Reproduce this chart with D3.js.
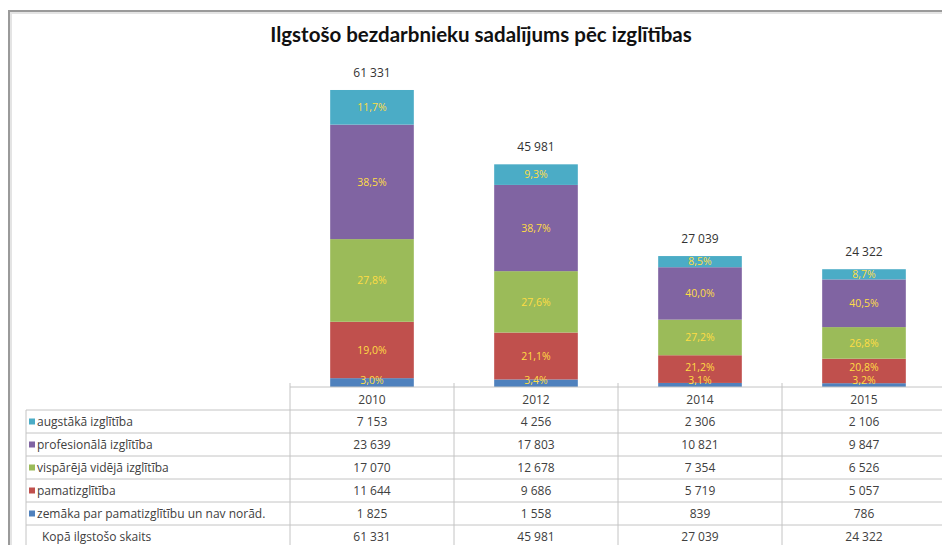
<!DOCTYPE html>
<html>
<head>
<meta charset="utf-8">
<script src="https://cdn.jsdelivr.net/npm/d3@7"></script>
<style>
  body { margin: 0; background: #fff; }
  svg { display: block; font-family: "Open Sans", Lato, sans-serif; }
</style>
</head>
<body>
<div id="container"></div>
<script>
const WIDTH = 942,
  HEIGHT = 545;

// Data
const years = ["2010", "2012", "2014", "2015"];
const seriesNames = [
  "zemāka par pamatizglītību un nav norād.",
  "pamatizglītība",
  "vispārējā vidējā izglītība",
  "profesionālā izglītība",
  "augstākā izglītība"
];
const zemaka = [1825, 1558, 839, 786];
const pamat = [11644, 9686, 5719, 5057];
const visparejaVideja = [17070, 12678, 7354, 6526];
const profesionala = [23639, 17803, 10821, 9847];
const augstaka = [7153, 4256, 2306, 2106];
const totals = [61331, 45981, 27039, 24322];
const totalLabel = "Kopā ilgstošo skaits";
const colors = ["#4f81bd", "#c0504d", "#9bbb59", "#8064a2", "#4bacc6"];

const seriesValues = [zemaka, pamat, visparejaVideja, profesionala, augstaka];

const table = years.map((y, i) => {
  const row = { year: y };
  seriesNames.forEach((s, k) => row[s] = seriesValues[k][i]);
  return row;
});

const fmt = v => d3.format(",")(v).replace(/,/g, " ");
const pct = v => d3.format(".1f")(v).replace(".", ",") + "%";

const svg = d3.select("#container")
  .append("svg")
  .attr("width", WIDTH)
  .attr("height", HEIGHT);

// Outer chart frame
svg.append("path")
  .attr("d", `M9,${HEIGHT} V11 H${WIDTH}`)
  .attr("fill", "none")
  .attr("stroke", "#9a9a9a")
  .attr("stroke-width", 2);
svg.append("path")
  .attr("d", `M11,${HEIGHT} V13 H${WIDTH}`)
  .attr("fill", "none")
  .attr("stroke", "#e4e4e4")
  .attr("stroke-width", 2);

// Title
svg.append("text")
  .attr("x", 481)
  .attr("y", 42)
  .attr("text-anchor", "middle")
  .style("font-family", "Lato, sans-serif")
  .style("font-size", "20.5px")
  .style("font-weight", "bold")
  .style("fill", "#111")
  .text("Ilgstošo bezdarbnieku sadalījums pēc izglītības");

// Scales
const TABLE_LEFT = 26, COL0 = 290, COLW = 164, BASE = 387, ROWH = 23;

const xScale = d3.scaleBand()
  .domain(years)
  .range([COL0, COL0 + COLW * years.length])
  .paddingInner(0.49)
  .paddingOuter(0.245);

const yScale = d3.scaleLinear()
  .domain([0, 70000])
  .range([BASE, 48]);

const stack = d3.stack().keys(seriesNames);
const stacked = stack(table);

// Bars
svg.selectAll(".layer")
  .data(stacked)
  .join("g")
  .attr("class", "layer")
  .attr("fill", (d, i) => colors[i])
  .selectAll("rect")
  .data(d => d)
  .join("rect")
  .attr("x", d => xScale(d.data.year))
  .attr("y", d => yScale(d[1]))
  .attr("width", xScale.bandwidth())
  .attr("height", d => yScale(d[0]) - yScale(d[1]));

// Percentage labels, drawn after all bars; pushed up bottom-to-top so they don't collide
const LABEL_GAP = 13;
const labels = [];
years.forEach((y, i) => {
  let prev = BASE + 6;
  stacked.forEach(layer => {
    const p = layer[i];
    const mid = (yScale(p[0]) + yScale(p[1])) / 2;
    const ly = Math.min(mid, prev - LABEL_GAP);
    prev = ly;
    labels.push({ year: y, ly, text: pct(p.data[layer.key] / totals[i] * 100) });
  });
});

svg.append("g")
  .attr("class", "pct-labels")
  .selectAll("text")
  .data(labels)
  .join("text")
  .attr("x", d => xScale(d.year) + xScale.bandwidth() / 2)
  .attr("y", d => d.ly)
  .attr("dy", "0.35em")
  .attr("text-anchor", "middle")
  .style("font-size", "10.5px")
  .style("fill", "#ffdd44")
  .text(d => d.text);

// Totals above bars
svg.selectAll(".total")
  .data(years)
  .join("text")
  .attr("class", "total")
  .attr("x", d => xScale(d) + xScale.bandwidth() / 2)
  .attr("y", (d, i) => yScale(totals[i]) - 13)
  .attr("text-anchor", "middle")
  .style("font-size", "12px")
  .style("fill", "#333")
  .text((d, i) => fmt(totals[i]));

// Data table
const grid = "#c4c4c4";
const rows = [...seriesNames].reverse();
const rowValues = [...seriesValues].reverse();
const rowColors = [...colors].reverse();
const tableRows = rows.length + 1;
const tableBottom = BASE + ROWH * (tableRows + 1);

const tbl = svg.append("g").attr("class", "data-table");

// horizontal lines
d3.range(1, tableRows + 1).forEach(r => {
  tbl.append("line")
    .attr("x1", TABLE_LEFT).attr("x2", WIDTH)
    .attr("y1", BASE + ROWH * r).attr("y2", BASE + ROWH * r)
    .attr("stroke", grid);
});
// vertical lines
tbl.append("line")
  .attr("x1", TABLE_LEFT).attr("x2", TABLE_LEFT)
  .attr("y1", BASE + ROWH).attr("y2", tableBottom)
  .attr("stroke", grid);
d3.range(years.length).forEach(c => {
  tbl.append("line")
    .attr("x1", COL0 + COLW * c).attr("x2", COL0 + COLW * c)
    .attr("y1", BASE - 4).attr("y2", tableBottom)
    .attr("stroke", grid);
});
// category axis line
tbl.append("line")
  .attr("x1", COL0).attr("x2", WIDTH)
  .attr("y1", BASE).attr("y2", BASE)
  .attr("stroke", grid);

// header years
tbl.selectAll(".year")
  .data(years)
  .join("text")
  .attr("class", "year")
  .attr("x", d => COL0 + COLW * years.indexOf(d) + COLW / 2)
  .attr("y", BASE + ROWH / 2 + 1)
  .attr("dy", "0.35em")
  .attr("text-anchor", "middle")
  .style("font-size", "12px")
  .style("fill", "#404040")
  .text(d => d);

// series rows
rows.forEach((name, r) => {
  const cy = BASE + ROWH * (r + 1) + ROWH / 2;
  tbl.append("rect")
    .attr("x", 29).attr("y", cy - 3)
    .attr("width", 6).attr("height", 6)
    .attr("fill", rowColors[r]);
  tbl.append("text")
    .attr("x", 37).attr("y", cy).attr("dy", "0.35em")
    .style("font-size", "12px")
    .style("fill", "#404040")
    .text(name);
  rowValues[r].forEach((v, c) => {
    tbl.append("text")
      .attr("x", COL0 + COLW * c + COLW / 2).attr("y", cy).attr("dy", "0.35em")
      .attr("text-anchor", "middle")
      .style("font-size", "12px")
      .style("fill", "#404040")
      .text(fmt(v));
  });
});

// totals row
const ty = BASE + ROWH * tableRows + ROWH / 2;
tbl.append("text")
  .attr("x", 42).attr("y", ty).attr("dy", "0.35em")
  .style("font-size", "12px")
  .style("fill", "#404040")
  .text(totalLabel);
totals.forEach((v, c) => {
  tbl.append("text")
    .attr("x", COL0 + COLW * c + COLW / 2).attr("y", ty).attr("dy", "0.35em")
    .attr("text-anchor", "middle")
    .style("font-size", "12px")
    .style("fill", "#404040")
    .text(fmt(v));
});
</script>
</body>
</html>
